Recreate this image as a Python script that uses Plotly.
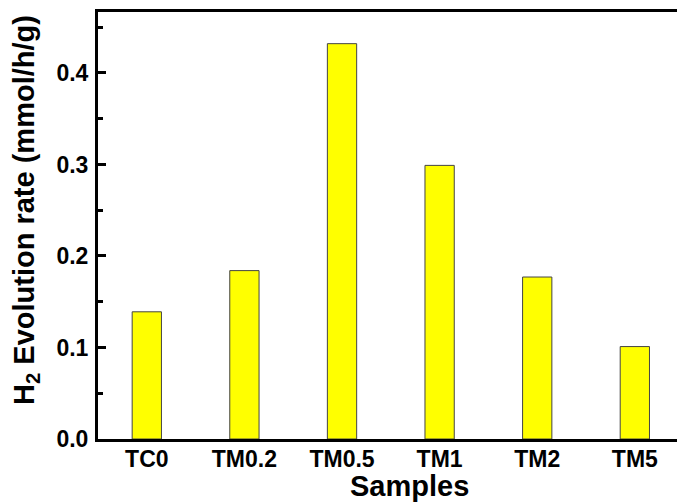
import plotly.graph_objects as go

samples = ["TC0", "TM0.2", "TM0.5", "TM1", "TM2", "TM5"]
h2_rate = [0.139, 0.184, 0.432, 0.299, 0.177, 0.101]

FONT = "Liberation Sans, Arial, sans-serif"

fig = go.Figure(
    go.Bar(
        x=list(range(len(samples))),
        y=h2_rate,
        width=0.3,
        marker=dict(color="#FFFF00", line=dict(color="#444444", width=1)),
    )
)

W, H = 677, 504
ml, mr, mt, mb = 98, 0, 12, 65

fig.update_layout(
    width=W, height=H,
    margin=dict(l=ml, r=mr, t=mt, b=mb),
    paper_bgcolor="white", plot_bgcolor="white",
    showlegend=False,
    font=dict(family=FONT, color="black"),
)

fig.update_xaxes(
    range=[-0.5, 5.432],
    tickmode="array",
    tickvals=list(range(len(samples))),
    ticktext=samples,
    tickfont=dict(size=23, family=FONT, color="black", weight="bold"),
    ticks="",
    showline=True, linecolor="black", linewidth=3, mirror=True,
    showgrid=False, zeroline=False,
    ticklabelstandoff=-3,
)

fig.update_yaxes(
    range=[0, 0.4666],
    tickmode="linear", tick0=0, dtick=0.1,
    tickformat=".1f",
    tickfont=dict(size=23, family=FONT, color="black", weight="bold"),
    ticks="inside", ticklen=8, tickwidth=2.5, tickcolor="black",
    minor=dict(ticks="inside", ticklen=5, tickwidth=2.5, tickcolor="black", dtick=0.05, showgrid=False),
    showline=True, linecolor="black", linewidth=3, mirror=False,
    showgrid=False, zeroline=False,
    ticklabelstandoff=2,
)

pw = W - ml - mr
ph = H - mt - mb

def px_x(p):
    return (p - ml) / pw

def px_y(p):
    return (H - mb - p) / ph

fig.add_annotation(
    text="H<sub>2</sub> Evolution rate (mmol/h/g)",
    xref="paper", yref="paper",
    x=px_x(26), y=px_y(210),
    xanchor="center", yanchor="middle",
    textangle=-90, showarrow=False,
    font=dict(size=29, family=FONT, color="black", weight="bold"),
)
fig.add_annotation(
    text="Samples",
    xref="paper", yref="paper",
    x=px_x(409.5), y=px_y(486),
    xanchor="center", yanchor="middle",
    showarrow=False,
    font=dict(size=29, family=FONT, color="black", weight="bold"),
)

fig.write_html("out.html")
